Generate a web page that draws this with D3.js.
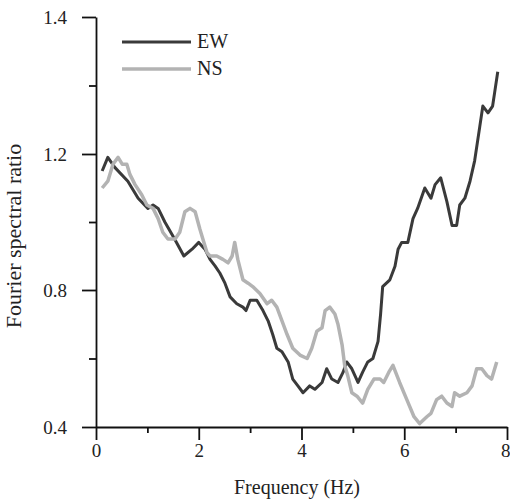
<!DOCTYPE html>
<html>
<head>
<meta charset="utf-8">
<script src="https://cdn.jsdelivr.net/npm/d3@7"></script>
<style>
  body { margin: 0; background: #fff; }
  text { font-family: "Liberation Serif", "Times New Roman", serif; fill: #222; }
</style>
</head>
<body>
<div id="plot"></div>
<script>

var w = 510;
var h = 500;

var ewFreq = [0.12, 0.23, 0.37, 0.62, 0.82, 1.01, 1.11, 1.21, 1.34, 1.53,
              1.71, 1.87, 2.00, 2.12, 2.22, 2.32, 2.41, 2.51, 2.61, 2.74,
              2.86, 2.92, 3.00, 3.13, 3.25, 3.35, 3.44, 3.52, 3.62, 3.74,
              3.83, 3.93, 4.03, 4.16, 4.26, 4.40, 4.49, 4.59, 4.71, 4.81,
              4.88, 4.98, 5.10, 5.19, 5.29, 5.39, 5.49, 5.54, 5.58, 5.72,
              5.82, 5.88, 5.95, 6.07, 6.17, 6.26, 6.40, 6.52, 6.60, 6.71,
              6.83, 6.93, 7.02, 7.08, 7.18, 7.28, 7.37, 7.47, 7.53, 7.63,
              7.72, 7.76, 7.82];
var ewRatio = [1.15, 1.19, 1.16, 1.12, 1.07, 1.04, 1.05, 1.04, 1.00, 0.95,
               0.90, 0.92, 0.94, 0.92, 0.89, 0.87, 0.85, 0.82, 0.78, 0.76,
               0.75, 0.74, 0.77, 0.77, 0.74, 0.71, 0.67, 0.63, 0.62, 0.59,
               0.54, 0.52, 0.50, 0.52, 0.51, 0.53, 0.57, 0.54, 0.53, 0.56,
               0.59, 0.57, 0.53, 0.56, 0.59, 0.60, 0.65, 0.73, 0.81, 0.83,
               0.87, 0.92, 0.94, 0.94, 1.01, 1.04, 1.10, 1.07, 1.11, 1.13,
               1.06, 0.99, 0.99, 1.05, 1.07, 1.12, 1.18, 1.24, 1.27, 1.26,
               1.27, 1.29, 1.32];

var nsFreq = [0.12, 0.23, 0.33, 0.43, 0.51, 0.60, 0.66, 0.76, 0.89, 0.99,
              1.11, 1.21, 1.30, 1.40, 1.54, 1.63, 1.73, 1.83, 1.93, 2.02,
              2.08, 2.16, 2.22, 2.35, 2.47, 2.57, 2.65, 2.70, 2.76, 2.86,
              2.96, 3.05, 3.19, 3.33, 3.42, 3.52, 3.62, 3.72, 3.83, 3.97,
              4.11, 4.20, 4.30, 4.40, 4.46, 4.55, 4.65, 4.71, 4.79, 4.84,
              4.90, 4.98, 5.08, 5.19, 5.29, 5.41, 5.53, 5.60, 5.70, 5.78,
              5.91, 6.05, 6.19, 6.30, 6.44, 6.52, 6.63, 6.73, 6.83, 6.93,
              6.98, 7.08, 7.22, 7.32, 7.41, 7.51, 7.61, 7.70, 7.80];
var nsRatio = [1.10, 1.12, 1.17, 1.19, 1.17, 1.17, 1.14, 1.11, 1.08, 1.05,
               1.04, 1.01, 0.97, 0.95, 0.95, 0.97, 1.03, 1.04, 1.03, 0.98,
               0.95, 0.91, 0.90, 0.90, 0.89, 0.88, 0.90, 0.94, 0.89, 0.83,
               0.82, 0.81, 0.79, 0.76, 0.77, 0.75, 0.71, 0.67, 0.63, 0.61,
               0.60, 0.63, 0.68, 0.69, 0.74, 0.75, 0.73, 0.70, 0.64, 0.58,
               0.55, 0.50, 0.49, 0.47, 0.51, 0.54, 0.54, 0.53, 0.56, 0.58,
               0.53, 0.48, 0.43, 0.41, 0.43, 0.44, 0.48, 0.49, 0.47, 0.46,
               0.50, 0.49, 0.50, 0.52, 0.57, 0.57, 0.55, 0.54, 0.59];

var seriesNames = ["EW", "NS"];
var seriesColors = ["#3a3a3a", "#b3b3b3"];

var xMajor = [0, 2, 4, 6, 8];
var xMinor = [1, 3, 5, 7];
// the printed y axis is evenly spaced at 0.4, 0.8, 1.2, 1.4
var yMajor = [0.4, 0.8, 1.2, 1.4];
var yMinor = [0.6, 1.0, 1.3];


var xScale = d3.scaleLinear()
               .domain([0, 8])
               .range([96, 507]);

var yScale = d3.scaleLinear()
               .domain([0.4, 0.8, 1.2, 1.4])
               .range([427, 290, 154, 17]);


var svg = d3.select("#plot")
            .append("svg")
            .attr("width", w)
            .attr("height", h);


var line = d3.line()
             .x(function(d) { return xScale(d[0]); })
             .y(function(d) { return yScale(d[1]); });

var series = [
    d3.zip(ewFreq, ewRatio),
    d3.zip(nsFreq, nsRatio)
];

svg.selectAll("path.series")
   .data(series)
   .enter()
   .append("path")
   .attr("class", "series")
   .attr("d", line)
   .attr("fill", "none")
   .attr("stroke", function(d, i) { return seriesColors[i]; })
   .attr("stroke-width", function(d, i) { return i === 0 ? 3 : 3.5; })
   .attr("stroke-linejoin", "round");


// axes
var xAxis = d3.axisBottom(xScale).tickValues(xMajor).tickSize(13).tickSizeOuter(0)
              .tickPadding(4).tickFormat(d3.format("d"));
var xAxisMinor = d3.axisBottom(xScale).tickValues(xMinor).tickSize(6).tickFormat("");
var yAxis = d3.axisLeft(yScale).tickValues(yMajor).tickSize(14).tickSizeOuter(0)
              .tickPadding(15).tickFormat(d3.format(".1f"));
var yAxisMinor = d3.axisLeft(yScale).tickValues(yMinor).tickSize(7).tickFormat("");

var gx = svg.append("g")
            .attr("transform", "translate(0,427)")
            .call(xAxis);
svg.append("g")
   .attr("transform", "translate(0,427)")
   .call(xAxisMinor)
   .select(".domain").remove();

var gy = svg.append("g")
            .attr("transform", "translate(96,0)")
            .call(yAxis);
svg.append("g")
   .attr("transform", "translate(96,0)")
   .call(yAxisMinor)
   .select(".domain").remove();

svg.selectAll(".domain, .tick line")
   .attr("stroke", "#111")
   .attr("stroke-width", 1.8);

gx.selectAll("text")
  .attr("font-family", "Liberation Serif")
  .attr("font-size", "19px")
  .attr("fill", "#222");
gy.selectAll("text")
  .attr("font-family", "Liberation Serif")
  .attr("font-size", "19px")
  .attr("fill", "#222");

// last label sits at the right edge, keep it inside
gx.selectAll(".tick text")
  .filter(function(d) { return d === 8; })
  .attr("text-anchor", "end")
  .attr("x", 3);


// axis titles
svg.append("text")
   .text("Frequency (Hz)")
   .attr("x", 297)
   .attr("y", 494)
   .attr("text-anchor", "middle")
   .attr("font-size", "20px");

svg.append("text")
   .text("Fourier spectral ratio")
   .attr("transform", "translate(21,236) rotate(-90)")
   .attr("text-anchor", "middle")
   .attr("font-size", "22px");


// legend
var legend = svg.selectAll("g.legend")
                .data(seriesNames)
                .enter()
                .append("g")
                .attr("class", "legend")
                .attr("transform", function(d, i) { return "translate(122," + (42 + i * 27) + ")"; });

legend.append("line")
      .attr("x1", 0)
      .attr("x2", 69)
      .attr("stroke", function(d, i) { return seriesColors[i]; })
      .attr("stroke-width", function(d, i) { return i === 0 ? 3 : 3.5; });

legend.append("text")
      .text(function(d) { return d; })
      .attr("x", 75)
      .attr("y", 6)
      .attr("font-size", "20px");

</script>
</body>
</html>
